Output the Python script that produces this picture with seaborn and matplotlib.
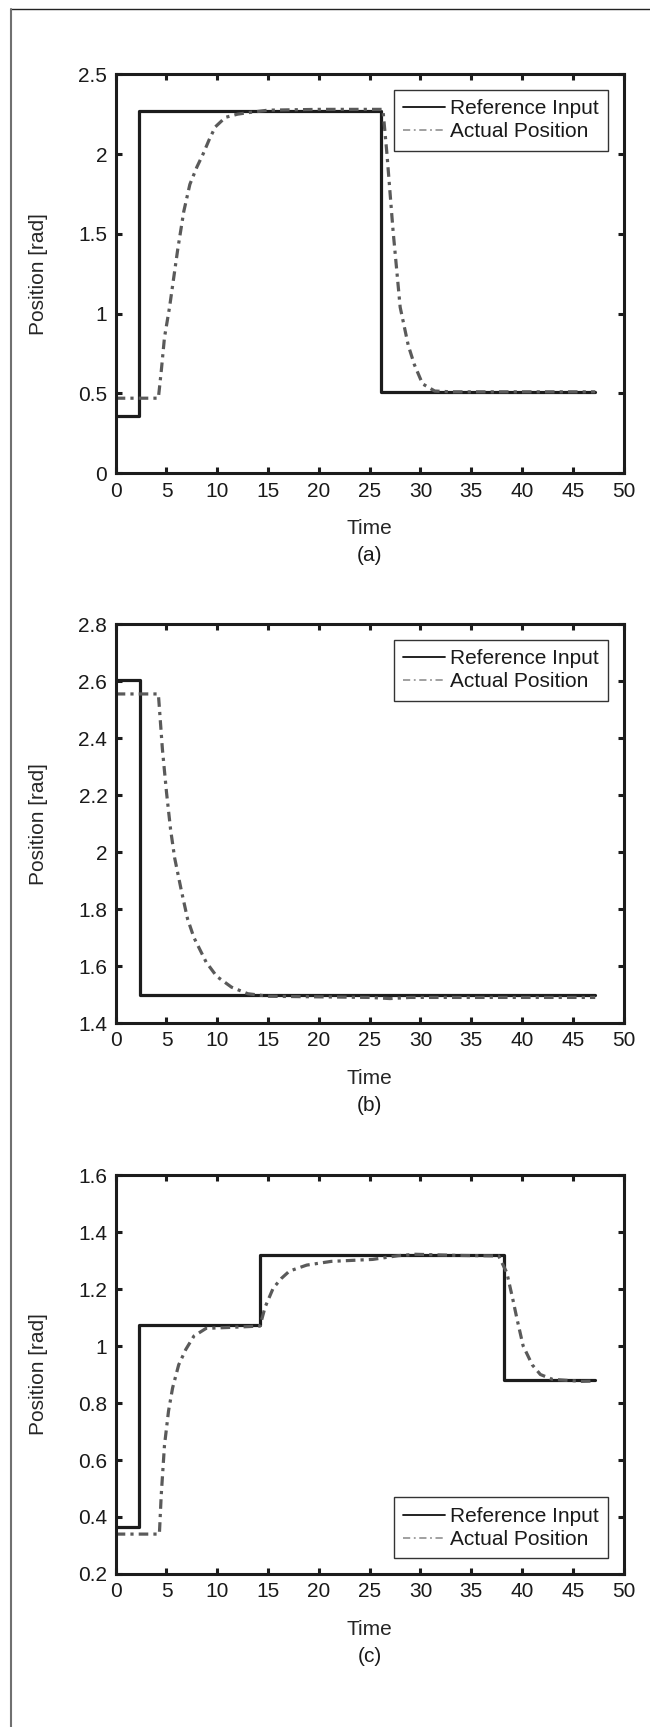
import matplotlib
matplotlib.use("Agg")

import numpy as np
import pandas as pd
import matplotlib.pyplot as plt
import seaborn as sns
from matplotlib.lines import Line2D
from matplotlib.ticker import FormatStrFormatter

# panel (a)
ref_a_t = [0, 2.3, 26.1, 47.2]
ref_a_v = [0.36, 2.27, 0.51, 0.51]
act_a_t = [0, 4.2, 4.5, 4.8, 5.3, 6.1, 6.7, 7.3, 8.0, 8.6, 9.2, 9.8, 10.8, 12.0,
           13.1, 15.0, 20.0, 26.3, 26.7, 27.3, 28.0, 28.8, 29.4, 30.2, 31.4, 33.0,
           40.0, 47.2]
act_a_v = [0.47, 0.47, 0.65, 0.85, 1.04, 1.40, 1.64, 1.81, 1.92, 2.0, 2.09, 2.17,
           2.23, 2.25, 2.26, 2.275, 2.28, 2.28, 2.0, 1.52, 1.04, 0.80, 0.68, 0.56,
           0.515, 0.51, 0.51, 0.51]

# panel (b)
ref_b_t = [0, 2.35, 47.2]
ref_b_v = [2.605, 1.5, 1.5]
act_b_t = [0, 4.2, 4.6, 5.0, 5.4, 5.8, 6.45, 7.07, 7.7, 8.9, 9.94, 11.4, 13.0,
           15.1, 20.0, 25.0, 27.0, 29.0, 35.0, 47.2]
act_b_v = [2.555, 2.555, 2.36, 2.21, 2.08, 1.98, 1.867, 1.766, 1.70, 1.614, 1.564,
           1.526, 1.503, 1.494, 1.492, 1.49, 1.486, 1.49, 1.49, 1.49]

# panel (c)
ref_c_t = [0, 2.3, 14.2, 38.2, 47.2]
ref_c_v = [0.365, 1.075, 1.32, 0.88, 0.88]
act_c_t = [0, 4.3, 4.48, 4.8, 5.2, 5.6, 6.2, 6.9, 7.7, 8.9, 11.0, 14.2, 14.7, 15.5,
           16.3, 17.1, 18.8, 21.2, 25.3, 27.8, 29.5, 33.6, 37.7, 38.5, 39.1, 39.5,
           40.1, 41.0, 41.8, 43.0, 45.9, 47.1]
act_c_v = [0.34, 0.34, 0.476, 0.651, 0.772, 0.853, 0.934, 0.988, 1.035, 1.062,
           1.065, 1.07, 1.136, 1.203, 1.237, 1.263, 1.284, 1.297, 1.304, 1.317,
           1.322, 1.318, 1.316, 1.257, 1.162, 1.095, 1.001, 0.934, 0.90, 0.883,
           0.876, 0.877]

panele = [
    ("(a)", ref_a_t, ref_a_v, act_a_t, act_a_v, (0, 2.5), 0.5, "upper right", 0.726),
    ("(b)", ref_b_t, ref_b_v, act_b_t, act_b_v, (1.4, 2.8), 0.2, "upper right", 0.4076),
    ("(c)", ref_c_t, ref_c_v, act_c_t, act_c_v, (0.2, 1.6), 0.2, "lower right", 0.0886),
]

sns.set_theme(style="white")
plt.rcParams["font.family"] = ["Liberation Sans", "DejaVu Sans"]
plt.rcParams["text.color"] = "#1a1a1a"

czarny = "#1c1c1c"
szary = "#5a5a5a"

fig = plt.figure(figsize=(6.5, 17.27), dpi=100)

for nazwa, rt, rv, at, av, ylim, krok, loc, dol in panele:
    ax = fig.add_axes([0.178, dol, 0.7815, 0.231])
    ref = pd.DataFrame({"t": rt, "v": rv})
    act = pd.DataFrame({"t": at, "v": av})

    sns.lineplot(data=ref, x="t", y="v", ax=ax, color=czarny, lw=2.3,
                 drawstyle="steps-post", estimator=None, legend=False)
    sns.lineplot(data=act, x="t", y="v", ax=ax, color=szary, lw=2.3,
                 linestyle=(0, (3, 1.6, 1, 1.6)), estimator=None, legend=False)

    ax.set_xlim(0, 50)
    ax.set_ylim(*ylim)
    ax.set_xticks(np.arange(0, 51, 5))
    ax.set_yticks(np.arange(ylim[0], ylim[1] + 1e-9, krok))
    ax.yaxis.set_major_formatter(FormatStrFormatter("%g"))
    ax.xaxis.set_major_formatter(FormatStrFormatter("%g"))

    ax.tick_params(direction="in", length=4, width=2.2, colors=czarny,
                   labelsize=15, labelcolor="#1a1a1a", pad=6,
                   top=True, right=True, bottom=True, left=True)
    for s in ax.spines.values():
        s.set_linewidth(2.2)
        s.set_color(czarny)

    ax.set_xlabel("Time", fontsize=15)
    ax.set_ylabel("Position [rad]", fontsize=15)
    ax.xaxis.set_label_coords(0.5, -0.115)
    ax.xaxis.label.set_va("top")
    ax.yaxis.set_label_coords(-0.134, 0.5)
    ax.text(0.5, -0.206, nazwa, transform=ax.transAxes, ha="center",
            va="center", fontsize=15)

    uchwyty = [
        Line2D([], [], color="#111111", lw=1.3),
        Line2D([], [], color="#999999", lw=1.3, linestyle=(0, (4, 2, 1, 2))),
    ]
    leg = ax.legend(uchwyty, ["Reference Input", "Actual Position"], loc=loc,
                    fontsize=15, frameon=True, fancybox=False, framealpha=1,
                    edgecolor="#333333", borderaxespad=0.75, handlelength=2.0,
                    handletextpad=0.25, borderpad=0.45, labelspacing=0.2)
    leg.get_frame().set_linewidth(1.0)

# ramka strony
fig.add_artist(Line2D([10.5 / 650, 1], [1 - 8.5 / 1727, 1 - 8.5 / 1727],
                      color="#222222", lw=1.0, transform=fig.transFigure))
fig.add_artist(Line2D([10.5 / 650, 10.5 / 650], [0, 1 - 8.5 / 1727],
                      color="#707070", lw=1.5, transform=fig.transFigure))

plt.savefig("out.png", dpi=100)
